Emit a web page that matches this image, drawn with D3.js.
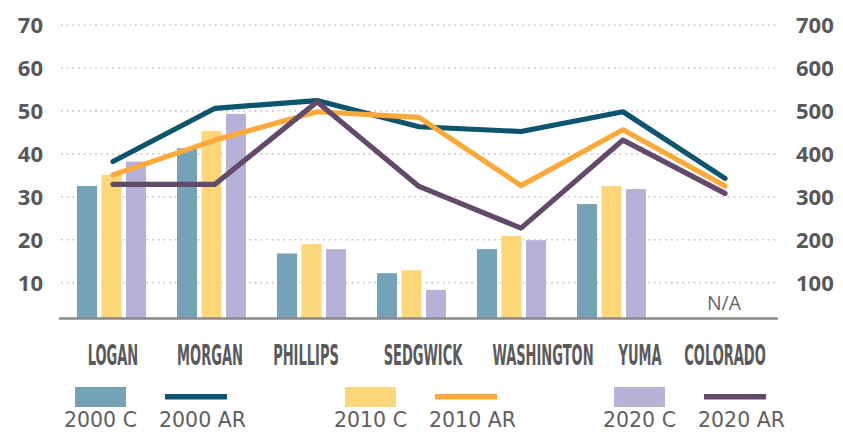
<!DOCTYPE html>
<html>
<head>
<meta charset="utf-8">
<script src="https://cdn.jsdelivr.net/npm/d3@7"></script>
<style>
  html, body { margin: 0; padding: 0; background: #fff; }
  svg { display: block; }
</style>
</head>
<body>
<svg id="chart" width="843" height="432"></svg>
<script>
// Counties along the x axis
const categories = ["LOGAN", "MORGAN", "PHILLIPS", "SEDGWICK", "WASHINGTON", "YUMA", "COLORADO"];

// Bar series (left axis, 0–70); null = no value
const c2000 = [32.5, 41.3, 16.8, 12.2, 17.8, 28.3, null];
const c2010 = [35.1, 45.3, 19.0, 12.9, 20.9, 32.5, null];
const c2020 = [38.2, 49.3, 17.8, 8.3, 19.9, 31.8, null];

// Line series (right axis, 0–700)
const ar2000 = [382, 506, 524, 463, 452, 498, 343];
const ar2010 = [351, 432, 498, 485, 326, 456, 325];
const ar2020 = [329, 329, 521, 324, 227, 432, 308];

// Axis ticks
const leftTicks = [10, 20, 30, 40, 50, 60, 70];
const rightTicks = [100, 200, 300, 400, 500, 600, 700];

const barSeries = [
  { key: "2000 C", values: c2000, color: "#74a3b8" },
  { key: "2010 C", values: c2010, color: "#fdd67a" },
  { key: "2020 C", values: c2020, color: "#b5b1d7" }
];
const lineSeries = [
  { key: "2000 AR", values: ar2000, color: "#0d546f" },
  { key: "2010 AR", values: ar2010, color: "#fbaa3a" },
  { key: "2020 AR", values: ar2020, color: "#644a6a" }
];

const svg = d3.select("#chart");
const plotLeft = 60, plotRight = 778, plotBottom = 318.5;
const textGray = "#58585a";

const yLeft = d3.scaleLinear().domain([0, 70]).range([325.6, 25]);
const yRight = d3.scaleLinear().domain([0, 700]).range([325.6, 25]);

const xBand = d3.scaleBand().domain(categories).range([61.5, 761.5])
  .paddingInner(0.31).paddingOuter(0.155);
const xInner = d3.scaleBand().domain(barSeries.map(s => s.key))
  .range([0, xBand.bandwidth()]).paddingInner(0.184);
const xPoint = d3.scalePoint().domain(categories).range([113, 725]);

// Dotted gridlines
svg.append("g").selectAll("line").data(leftTicks).join("line")
  .attr("x1", plotLeft + 1).attr("x2", plotRight)
  .attr("y1", d => yLeft(d)).attr("y2", d => yLeft(d))
  .attr("stroke", "#c4c4c4").attr("stroke-width", 1.6)
  .attr("stroke-dasharray", "1.6 4.1");

// Left axis labels
const leftAxis = d3.axisLeft(yLeft).tickValues(leftTicks).tickSize(0).tickPadding(0);
svg.append("g").attr("transform", "translate(43,0)").call(leftAxis)
  .call(g => g.select(".domain").remove())
  .selectAll("text")
  .attr("font-family", "'Open Sans', sans-serif").attr("font-weight", 700)
  .attr("font-size", 22).attr("fill", textGray).attr("dy", "0.36em");

// Right axis labels
const rightAxis = d3.axisRight(yRight).tickValues(rightTicks).tickSize(0).tickPadding(0);
svg.append("g").attr("transform", "translate(796,0)").call(rightAxis)
  .call(g => g.select(".domain").remove())
  .selectAll("text")
  .attr("font-family", "'Open Sans', sans-serif").attr("font-weight", 700)
  .attr("font-size", 22).attr("fill", textGray).attr("dy", "0.36em");

// Grouped bars
const groups = svg.append("g").selectAll("g").data(categories).join("g")
  .attr("transform", d => `translate(${xBand(d)},0)`);
groups.selectAll("rect")
  .data((cat, i) => barSeries.map(s => ({ key: s.key, v: s.values[i], color: s.color })).filter(d => d.v != null))
  .join("rect")
  .attr("x", d => xInner(d.key))
  .attr("width", xInner.bandwidth())
  .attr("y", d => yLeft(d.v))
  .attr("height", d => plotBottom - yLeft(d.v))
  .attr("fill", d => d.color);

// Baseline
svg.append("line")
  .attr("x1", plotLeft - 1).attr("x2", plotRight)
  .attr("y1", plotBottom).attr("y2", plotBottom)
  .attr("stroke", "#8a8a8a").attr("stroke-width", 2.6);

// N/A note for the state, which has no bar values
svg.append("text")
  .attr("x", xPoint("COLORADO") - 1)
  .attr("y", 310)
  .attr("text-anchor", "middle")
  .attr("font-family", "'Open Sans', sans-serif")
  .attr("font-size", 19.5).attr("fill", "#666")
  .text("N/A");

// Lines
const lineGen = d3.line()
  .x((d, i) => xPoint(categories[i]))
  .y(d => yRight(d));
svg.append("g").selectAll("path").data(lineSeries).join("path")
  .attr("d", d => lineGen(d.values))
  .attr("fill", "none")
  .attr("stroke", d => d.color)
  .attr("stroke-width", 5.2)
  .attr("stroke-linejoin", "round")
  .attr("stroke-linecap", "round");

// Category labels (condensed caps); per-label nudges keep the hand-set spacing
const labelNudge = [0, -5, -11, 4, 22, 17, 0];
const labelScale = 0.5;
svg.append("g").selectAll("text").data(categories).join("text")
  .attr("transform", (d, i) => `translate(${xPoint(d) + labelNudge[i]},365) scale(${labelScale},1)`)
  .attr("text-anchor", "middle")
  .attr("font-family", "'Liberation Sans Narrow', 'DejaVu Sans Condensed', sans-serif")
  .attr("font-weight", 700)
  .attr("font-size", 29)
  .attr("fill", "#5a5a5c")
  .text(d => d);

// Legend
const legendBars = [75, 345, 614];
const legendLines = [165, 435, 704];
const legendFont = "'DejaVu Sans', sans-serif";
const legend = svg.append("g");
barSeries.forEach((s, i) => {
  legend.append("rect")
    .attr("x", legendBars[i]).attr("y", 387).attr("width", 51).attr("height", 20)
    .attr("fill", s.color);
  legend.append("text")
    .attr("x", legendBars[i] + 25.5).attr("y", 427)
    .attr("text-anchor", "middle")
    .attr("font-family", legendFont).attr("font-size", 20.5)
    .attr("fill", "#5f5f5f").text(s.key);
});
lineSeries.forEach((s, i) => {
  legend.append("line")
    .attr("x1", legendLines[i]).attr("x2", legendLines[i] + 62)
    .attr("y1", 396.7).attr("y2", 396.7)
    .attr("stroke", s.color).attr("stroke-width", 5.4);
  legend.append("text")
    .attr("x", legendLines[i] - 6).attr("y", 427)
    .attr("font-family", legendFont).attr("font-size", 20.5)
    .attr("fill", "#5f5f5f").text(s.key);
});
</script>
</body>
</html>
